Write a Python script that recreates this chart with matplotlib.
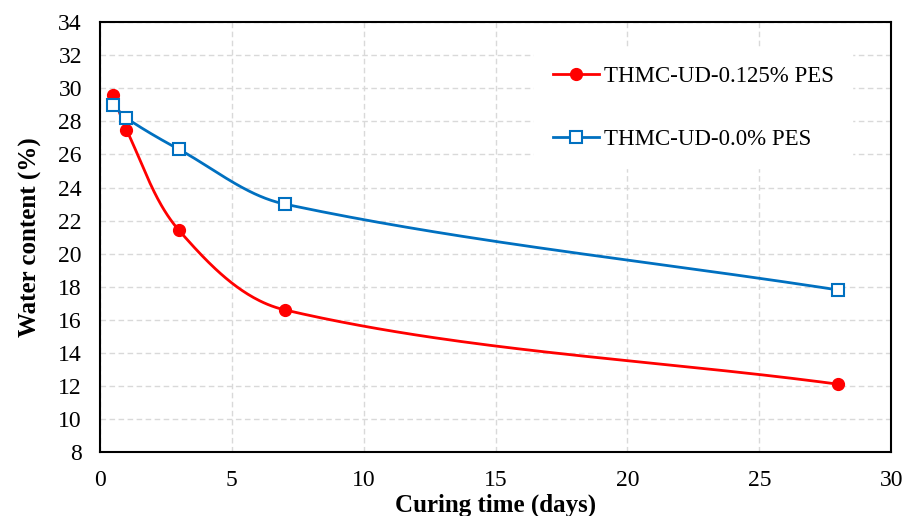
import matplotlib
matplotlib.use("Agg")
import matplotlib.pyplot as plt
import numpy as np

# curing time (days) and water content (%)
days = [0.5, 1, 3, 7, 28]
wc_125 = [29.6, 27.5, 21.4, 16.6, 12.1]
wc_00 = [29.0, 28.2, 26.3, 23.0, 17.8]
labels = ["THMC-UD-0.125% PES", "THMC-UD-0.0% PES"]

plt.rcParams['font.family'] = ['Liberation Serif', 'DejaVu Serif']

fig = plt.figure(figsize=(9.14, 5.16), dpi=100)
ax = fig.add_axes([0.1094, 0.124, 0.8656, 0.833])
xlim = (0, 30)
ylim = (8, 34)


def smooth(x, y, n=60):
    # smoothed line like Excel: bezier segments, tangent at each point
    # taken from its neighbours, worked out in screen units
    sx = 791 / (xlim[1] - xlim[0])
    sy = 430 / (ylim[1] - ylim[0])
    p = np.column_stack([np.array(x) * sx, np.array(y) * sy])
    k = len(p)
    tang = []
    for i in range(k):
        d = p[min(i + 1, k - 1)] - p[max(i - 1, 0)]
        tang.append(d / np.hypot(*d))
    out = []
    for i in range(k - 1):
        p1, p2 = p[i], p[i + 1]
        L = np.hypot(*(p2 - p1)) / 3
        c1 = p1 + tang[i] * L
        c2 = p2 - tang[i + 1] * L
        t = np.linspace(0, 1, n)[:, None]
        seg = ((1 - t) ** 3) * p1 + 3 * ((1 - t) ** 2) * t * c1 \
            + 3 * (1 - t) * t ** 2 * c2 + t ** 3 * p2
        out.append(seg if i == 0 else seg[1:])
    out = np.vstack(out)
    return out[:, 0] / sx, out[:, 1] / sy


red = '#ff0000'
blue = '#0070c0'

xs, ys = smooth(days, wc_125)
ax.plot(xs, ys, color=red, lw=2, zorder=3)
ax.plot(days, wc_125, 'o', color=red, ms=8.5, zorder=4)
xs, ys = smooth(days, wc_00)
ax.plot(xs, ys, color=blue, lw=2, zorder=3)
ax.plot(days, wc_00, 's', color=blue, mfc='white', mew=1.5, ms=8.5, zorder=4)

# legend proxies
h1, = ax.plot([], [], '-o', color=red, lw=2, ms=8.5)
h2, = ax.plot([], [], '-s', color=blue, mfc='white', mew=1.5, ms=8.5, lw=2)
leg = ax.legend([h1, h2], labels, loc='upper left',
                bbox_to_anchor=(0.549, 0.94), frameon=True, fancybox=False,
                edgecolor='white', framealpha=1, fontsize=16.5,
                labelspacing=1.8, handlelength=2.0, handletextpad=0.25,
                borderpad=0.8, borderaxespad=0)
leg.set_zorder(5)

ax.set_xlim(*xlim)
ax.set_ylim(*ylim)
ax.set_xticks(np.arange(0, 31, 5))
ax.set_yticks(np.arange(8, 35, 2))
ax.tick_params(length=0, labelsize=17, pad=13)
ax.grid(True, color='#d9d9d9', ls=(0, (4, 2.5)), lw=1)
ax.set_axisbelow(True)
for s in ax.spines.values():
    s.set_linewidth(1.5)
    s.set_color('black')

ax.set_xlabel('Curing time (days)', fontsize=18, fontweight='bold', labelpad=2)
ax.set_ylabel('Water content (%)', fontsize=18, fontweight='bold', labelpad=12)

fig.savefig('out.png', dpi=100)
